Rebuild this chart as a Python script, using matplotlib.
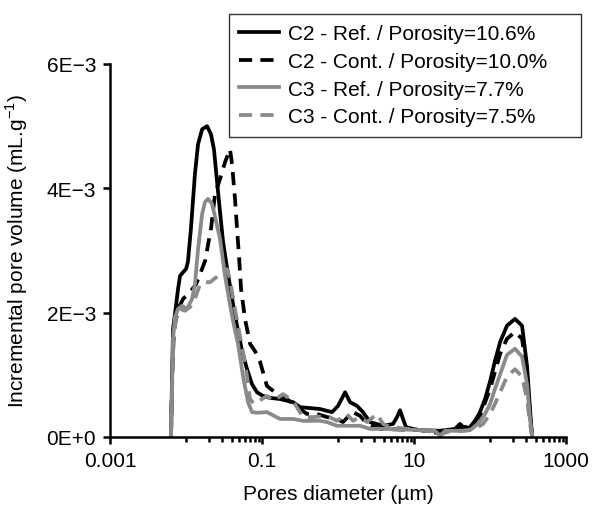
import numpy as np
import matplotlib
matplotlib.use('Agg')
import matplotlib.pyplot as plt
from matplotlib.ticker import NullFormatter

# pore diameters (um) and incremental pore volume (x1e-3 mL/g)
d_c2_ref = [0.00635, 0.00655, 0.00675, 0.00716, 0.00785, 0.00834, 0.00914, 0.0100, 0.0106,
            0.0116, 0.0131, 0.0144, 0.0163, 0.0189, 0.0213, 0.0233, 0.0264, 0.0307, 0.0357,
            0.0415, 0.0469, 0.0546, 0.0635, 0.0738, 0.0859, 0.103, 0.127, 0.173, 0.256, 0.316,
            0.579, 0.834, 1.0, 1.24, 1.44, 1.78, 2.13, 2.64, 3.91, 5.30, 5.97, 6.55, 7.16, 7.85,
            9.70, 12.0, 22.0, 34.6, 40.3, 46.9, 54.6, 63.5, 73.8, 85.9, 100, 116, 136, 167,
            213, 264, 307, 336, 357]
v_c2_ref = [0.03, 0.93, 1.74, 1.98, 2.38, 2.59, 2.65, 2.70, 2.82, 3.35, 4.23, 4.71, 4.95, 5.00,
            4.87, 4.63, 3.94, 3.14, 2.62, 2.14, 1.79, 1.38, 1.09, 0.85, 0.72, 0.66, 0.63, 0.61,
            0.56, 0.48, 0.45, 0.40, 0.50, 0.72, 0.56, 0.50, 0.40, 0.24, 0.18, 0.21, 0.32, 0.43,
            0.29, 0.16, 0.13, 0.11, 0.10, 0.13, 0.21, 0.13, 0.16, 0.26, 0.40, 0.61, 0.89, 1.22,
            1.53, 1.79, 1.90, 1.79, 1.14, 0.45, 0.02]

d_c2_cont = [0.00635, 0.00655, 0.00695, 0.00785, 0.00914, 0.0113, 0.0136, 0.0153, 0.0178,
             0.0213, 0.0241, 0.0280, 0.0326, 0.0379, 0.0403, 0.0441, 0.0469, 0.0498, 0.0530,
             0.0597, 0.0695, 0.0809, 0.0942, 0.116, 0.148, 0.189, 0.256, 0.391, 0.530, 0.716,
             0.970, 1.16, 1.57, 1.95, 2.41, 3.57, 12.0, 22.0, 34.6, 40.3, 54.6, 73.8, 100, 136,
             167, 213, 264, 307, 336, 357]
v_c2_cont = [0.03, 0.93, 1.74, 2.06, 2.22, 2.33, 2.46, 2.62, 2.83, 3.35, 3.91, 4.15, 4.42, 4.63,
             4.39, 3.83, 3.35, 2.91, 2.38, 1.90, 1.50, 1.38, 1.21, 0.82, 0.72, 0.66, 0.53, 0.37,
             0.37, 0.32, 0.29, 0.24, 0.40, 0.34, 0.21, 0.13, 0.11, 0.06, 0.10, 0.16, 0.16, 0.34,
             0.77, 1.34, 1.58, 1.69, 1.58, 1.01, 0.37, 0.02]

d_c3_ref = [0.00635, 0.00655, 0.00675, 0.00716, 0.00785, 0.00885, 0.0103, 0.0120, 0.0131,
            0.0144, 0.0163, 0.0178, 0.0195, 0.0220, 0.0241, 0.0280, 0.0326, 0.0368, 0.0415,
            0.0483, 0.0562, 0.0655, 0.0738, 0.0859, 0.116, 0.173, 0.256, 0.346, 0.579, 0.716,
            0.970, 1.95, 2.64, 4.42, 12.0, 18.9, 22.0, 25.6, 40.3, 54.6, 69.5, 85.9, 100, 116,
            136, 167, 213, 264, 307, 336, 357]
v_c3_ref = [0.02, 0.77, 1.58, 1.93, 2.06, 2.11, 2.06, 2.22, 2.46, 3.02, 3.59, 3.78, 3.83, 3.75,
            3.54, 3.19, 2.59, 2.22, 1.87, 1.50, 0.98, 0.56, 0.40, 0.39, 0.40, 0.29, 0.29, 0.26,
            0.26, 0.24, 0.18, 0.18, 0.13, 0.13, 0.11, 0.10, 0.02, 0.10, 0.10, 0.11, 0.21, 0.37,
            0.53, 0.77, 1.01, 1.32, 1.42, 1.29, 0.85, 0.29, 0.02]

d_c3_cont = [0.00635, 0.00655, 0.00675, 0.00738, 0.00834, 0.0097, 0.0113, 0.0131, 0.0153,
             0.0178, 0.0207, 0.0233, 0.0264, 0.0307, 0.0346, 0.0379, 0.0403, 0.0441, 0.0483,
             0.0562, 0.0635, 0.0695, 0.0785, 0.0859, 0.116, 0.140, 0.189, 0.256, 0.346, 0.469,
             0.716, 0.970, 1.31, 1.57, 1.95, 2.41, 3.26, 3.91, 4.83, 12.0, 18.9, 22.0, 25.6,
             46.9, 63.5, 80.9, 100, 116, 136, 167, 213, 264, 307, 336, 357]
v_c3_cont = [0.02, 0.77, 1.50, 1.90, 2.06, 2.03, 2.09, 2.22, 2.46, 2.49, 2.49, 2.54, 2.59, 2.67,
             2.70, 2.54, 2.33, 2.06, 1.79, 1.37, 0.98, 0.61, 0.53, 0.56, 0.66, 0.58, 0.69, 0.58,
             0.32, 0.32, 0.34, 0.26, 0.37, 0.26, 0.32, 0.24, 0.37, 0.21, 0.16, 0.11, 0.08, 0.02,
             0.08, 0.10, 0.13, 0.21, 0.37, 0.53, 0.72, 0.97, 1.09, 0.97, 0.61, 0.21, 0.02]

labels = ['C2 - Ref. / Porosity=10.6%', 'C2 - Cont. / Porosity=10.0%',
          'C3 - Ref. / Porosity=7.7%', 'C3 - Cont. / Porosity=7.5%']
ytick_vals = [0, 2e-3, 4e-3, 6e-3]
ytick_labels = ['0E+0', '2E\u22123', '4E\u22123', '6E\u22123']
xtick_vals = [0.001, 0.1, 10, 1000]
xtick_labels = ['0.001', '0.1', '10', '1000']

plt.rcParams['font.family'] = ['Liberation Sans', 'DejaVu Sans']
plt.rcParams['mathtext.fontset'] = 'custom'
plt.rcParams['mathtext.rm'] = 'Liberation Sans'
plt.rcParams['font.size'] = 15

fig = plt.figure(figsize=(5.96, 5.10), dpi=100)
ax = fig.add_axes([0.1846, 0.1412, 0.7651, 0.7314])

black = '#000000'
grey = '#8a8a8a'
lw = 2.7
ax.plot(d_c2_ref, np.array(v_c2_ref) * 1e-3, color=black, lw=lw,
        solid_joinstyle='round', label=labels[0])
ax.plot(d_c2_cont, np.array(v_c2_cont) * 1e-3, color=black, lw=lw,
        linestyle=(0, (3.5, 2.2)), dash_joinstyle='round', label=labels[1])
ax.plot(d_c3_ref, np.array(v_c3_ref) * 1e-3, color=grey, lw=lw,
        solid_joinstyle='round', label=labels[2])
ax.plot(d_c3_cont, np.array(v_c3_cont) * 1e-3, color=grey, lw=lw,
        linestyle=(0, (3.5, 2.2)), dash_joinstyle='round', label=labels[3])

ax.set_xscale('log')
ax.set_xlim(0.001, 1000)
ax.set_ylim(0, 6e-3)
ax.set_xticks(xtick_vals)
ax.set_xticklabels(xtick_labels)
minor = [10.0 ** e for e in (-2, 0, 2)]
for e in (-2, 0, 2):
    minor += [k * 10.0 ** e for k in range(2, 10)]
ax.set_xticks(minor, minor=True)
ax.xaxis.set_minor_formatter(NullFormatter())
ax.set_yticks(ytick_vals)
ax.set_yticklabels(ytick_labels)

for side in ('top', 'right'):
    ax.spines[side].set_visible(False)
for side in ('left', 'bottom'):
    ax.spines[side].set_linewidth(1.8)
ax.tick_params(which='major', length=5, width=1.8, direction='out', pad=5)
ax.tick_params(which='minor', length=3.5, width=1.8, direction='out')

ax.set_xlabel('Pores diameter (\u00b5m)', labelpad=10)
ax.set_ylabel('Incremental pore volume (mL.g$^{-1}$)', labelpad=12)

leg = fig.legend(loc='upper left', bbox_to_anchor=(0.384, 0.745, 0.59, 0.226),
                 mode='expand', borderaxespad=0, fancybox=False, frameon=True,
                 handlelength=1.9, handletextpad=0.45, labelspacing=0.42, borderpad=0.5,
                 fontsize=15)
leg.get_frame().set_edgecolor('black')
leg.get_frame().set_linewidth(1.0)

plt.savefig('out.png', dpi=100)
